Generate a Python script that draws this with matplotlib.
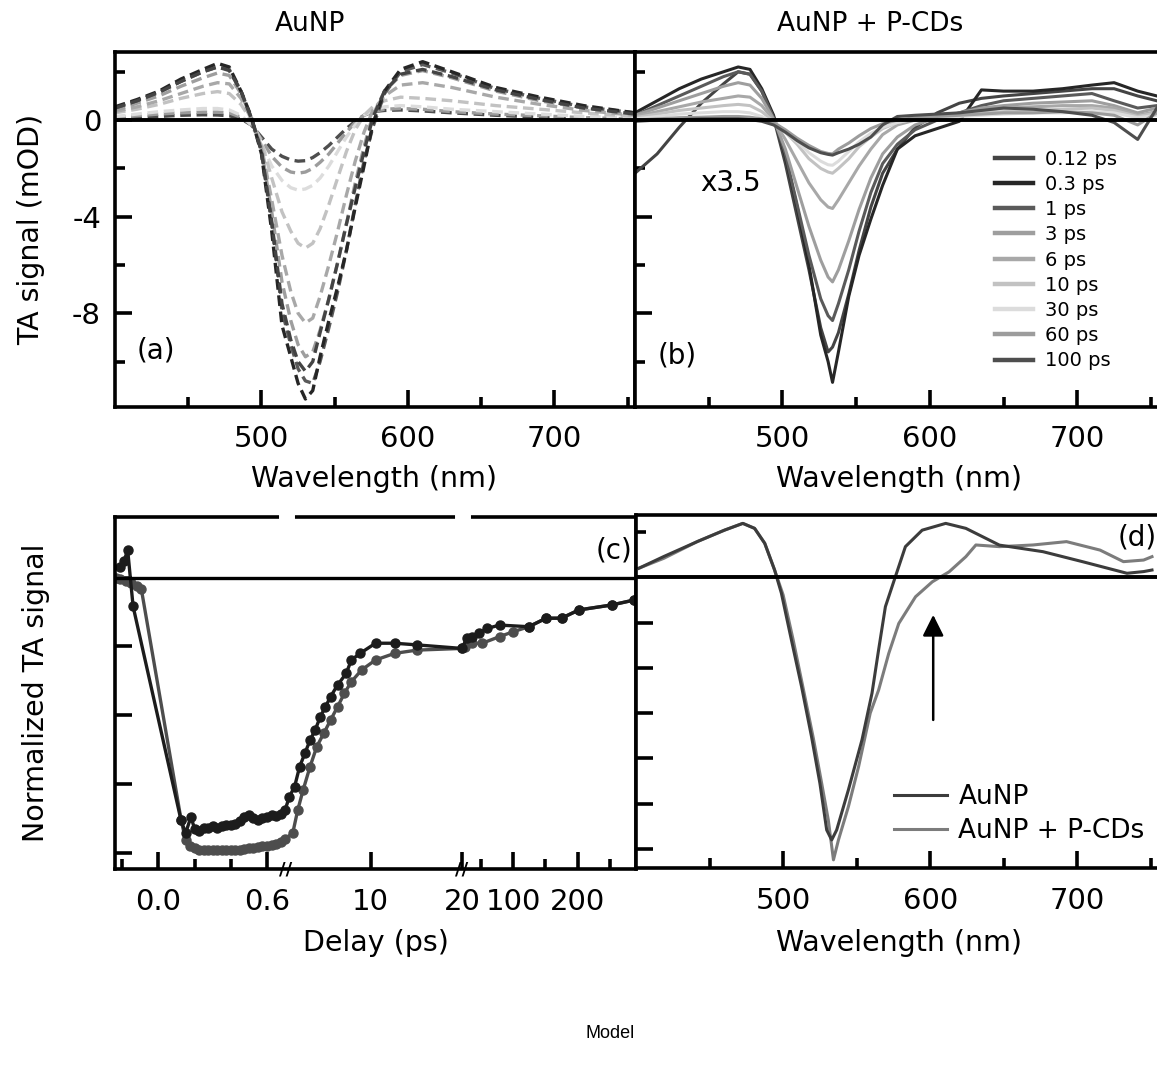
import numpy as np
import matplotlib
matplotlib.use('Agg')
import matplotlib.pyplot as plt
from matplotlib.lines import Line2D

plt.rcParams['font.family'] = 'DejaVu Sans'

# ---------------- panel (a): AuNP (dashed) ----------------
wl_a = [400, 415, 430, 445, 460, 470, 478, 486, 493, 500, 507, 514, 520, 525, 530,
        535, 540, 546, 552, 558, 564, 570, 576, 584, 595, 610, 630, 660, 690, 720, 755]
a_012 = [0.5, 0.8, 1.15, 1.6, 2.0, 2.2, 2.05, 1.2, 0.1, -1.3, -4.2, -7.6, -9.1, -10.0, -10.4,
         -10.0, -8.8, -7.4, -5.9, -4.3, -2.8, -1.3, 0.1, 1.2, 1.9, 2.1, 1.8, 1.25, 0.85, 0.5, 0.25]
a_03 = [0.55, 0.85, 1.2, 1.7, 2.1, 2.35, 2.2, 1.2, 0.15, -1.4, -4.6, -8.5, -9.8, -10.9, -11.55,
        -11.2, -9.8, -8.3, -6.9, -5.4, -3.6, -1.9, -0.15, 1.2, 2.1, 2.42, 2.0, 1.35, 0.95, 0.6, 0.3]
a_1 = [0.5, 0.8, 1.15, 1.6, 2.0, 2.2, 2.1, 1.2, 0.1, -1.3, -4.3, -7.9, -9.3, -10.3, -10.8,
       -10.9, -10.0, -8.6, -7.1, -5.4, -3.5, -1.7, -0.3, 1.1, 2.0, 2.3, 1.95, 1.3, 0.9, 0.55, 0.3]
a_3 = [0.4, 0.7, 1.0, 1.4, 1.75, 1.95, 1.85, 1.1, 0.1, -1.2, -3.8, -6.7, -8.3, -9.3, -9.8,
       -9.6, -8.7, -7.4, -5.9, -4.3, -2.6, -1.1, 0.2, 1.2, 1.85, 2.05, 1.75, 1.2, 0.8, 0.5, 0.25]
a_6 = [0.35, 0.55, 0.8, 1.1, 1.4, 1.55, 1.5, 0.9, 0.05, -1.1, -3.3, -5.6, -7.1, -8.0, -8.4,
       -8.2, -7.3, -6.0, -4.6, -3.1, -1.7, -0.5, 0.4, 1.0, 1.45, 1.55, 1.35, 0.95, 0.65, 0.4, 0.2]
a_10 = [0.3, 0.45, 0.65, 0.9, 1.1, 1.18, 1.1, 0.65, 0.0, -0.9, -2.4, -3.8, -4.6, -5.1, -5.3,
        -5.1, -4.5, -3.5, -2.4, -1.3, -0.4, 0.2, 0.55, 0.8, 0.95, 0.9, 0.8, 0.6, 0.45, 0.3, 0.15]
a_30 = [0.15, 0.25, 0.35, 0.42, 0.48, 0.48, 0.42, 0.2, -0.2, -1.0, -1.9, -2.5, -2.8, -2.9, -2.85,
        -2.7, -2.4, -1.9, -1.3, -0.7, -0.2, 0.2, 0.4, 0.55, 0.6, 0.55, 0.45, 0.35, 0.25, 0.15, 0.1]
a_60 = [0.1, 0.18, 0.25, 0.3, 0.33, 0.33, 0.3, 0.12, -0.2, -0.8, -1.5, -1.95, -2.15, -2.2, -2.15,
        -2.0, -1.75, -1.4, -0.95, -0.5, -0.1, 0.2, 0.35, 0.45, 0.48, 0.45, 0.35, 0.25, 0.18, 0.1, 0.05]
a_100 = [0.05, 0.1, 0.15, 0.2, 0.22, 0.21, 0.18, 0.05, -0.2, -0.7, -1.2, -1.5, -1.65, -1.7, -1.68,
         -1.55, -1.35, -1.05, -0.7, -0.35, -0.05, 0.2, 0.35, 0.4, 0.42, 0.38, 0.3, 0.2, 0.12, 0.08, 0.05]

# ---------------- panel (b): AuNP + P-CDs ----------------
wl_b = [400, 415, 430, 445, 460, 470, 478, 486, 494, 502, 510, 518, 526, 531, 534, 538,
        545, 552, 560, 568, 578, 590, 605, 620, 635, 650, 670, 690, 710, 725, 741, 754]
b_012 = [-2.2, -1.4, -0.3, 0.7, 1.5, 2.0, 1.9, 1.2, 0.1, -1.8, -4.0, -6.2, -8.6, -9.6, -9.4, -8.8,
         -7.2, -5.4, -3.6, -2.2, -1.2, -0.3, 0.3, 0.7, 0.9, 1.0, 1.1, 1.2, 1.3, 1.3, 1.0, 0.8]
b_03 = [0.3, 0.8, 1.3, 1.7, 2.0, 2.2, 2.1, 1.3, 0.2, -1.5, -3.6, -6.0, -8.9, -10.0, -10.86, -9.6,
        -7.3, -5.6, -4.1, -2.7, -1.2, -0.65, -0.35, -0.05, 1.25, 1.2, 1.2, 1.3, 1.45, 1.55, 1.2, 1.0]
b_1 = [0.2, 0.6, 1.0, 1.4, 1.8, 2.0, 1.9, 1.2, 0.1, -1.4, -3.5, -5.6, -7.4, -8.1, -8.3, -7.6,
       -6.2, -4.6, -3.0, -1.8, -1.0, -0.4, 0.0, 0.3, 0.6, 0.8, 0.9, 1.0, 1.1, 0.8, 0.5, 0.6]
b_3 = [0.2, 0.5, 0.8, 1.1, 1.4, 1.55, 1.45, 0.9, 0.05, -1.2, -2.8, -4.4, -5.8, -6.5, -6.7, -6.2,
       -5.0, -3.7, -2.4, -1.4, -0.7, -0.2, 0.1, 0.3, 0.5, 0.6, 0.7, 0.75, 0.8, 0.6, 0.3, 0.5]
b_6 = [0.15, 0.35, 0.55, 0.75, 0.9, 1.0, 0.95, 0.6, 0.0, -0.8, -1.7, -2.6, -3.3, -3.6, -3.66, -3.3,
       -2.6, -1.9, -1.2, -0.6, -0.2, 0.0, 0.15, 0.25, 0.4, 0.5, 0.55, 0.6, 0.6, 0.5, 0.2, 0.35]
b_10 = [0.1, 0.25, 0.4, 0.5, 0.6, 0.65, 0.6, 0.35, -0.05, -0.5, -1.0, -1.6, -2.0, -2.15, -2.2, -2.0,
        -1.6, -1.1, -0.7, -0.35, -0.1, 0.05, 0.15, 0.2, 0.3, 0.35, 0.4, 0.45, 0.5, 0.4, 0.15, 0.3]
b_30 = [0.05, 0.15, 0.25, 0.3, 0.35, 0.35, 0.3, 0.15, -0.1, -0.5, -0.9, -1.35, -1.7, -1.85, -1.87, -1.7,
        -1.3, -0.9, -0.55, -0.3, -0.1, 0.05, 0.1, 0.15, 0.2, 0.25, 0.3, 0.3, 0.35, 0.3, 0.1, 0.2]
b_60 = [0.0, 0.05, 0.1, 0.12, 0.15, 0.15, 0.12, 0.05, -0.1, -0.4, -0.75, -1.05, -1.3, -1.38, -1.4, -1.2,
        -0.95, -0.65, -0.35, -0.15, 0.0, 0.1, 0.15, 0.2, 0.25, 0.3, 0.3, 0.35, 0.3, 0.2, -0.2, 0.3]
b_100 = [-0.05, 0.0, 0.02, 0.05, 0.05, 0.05, 0.02, -0.05, -0.2, -0.5, -0.85, -1.15, -1.35, -1.42, -1.45, -1.35,
         -1.2, -1.0, -0.7, -0.2, 0.15, 0.2, 0.25, 0.3, 0.4, 0.5, 0.45, 0.35, 0.2, -0.1, -0.8, 0.5]

delay_labels = ['0.12 ps', '0.3 ps', '1 ps', '3 ps', '6 ps', '10 ps', '30 ps', '60 ps', '100 ps']
grays = ['#444444', '#262626', '#5a5a5a', '#9e9e9e', '#a8a8a8', '#c2c2c2', '#dcdcdc', '#9c9c9c', '#4e4e4e']

# ---------------- panel (c): kinetics ----------------
c_dark_t = [-0.21, -0.19, -0.17, -0.14, 0.124, 0.15, 0.18,
            0.2, 0.225, 0.25, 0.275, 0.3, 0.325, 0.35, 0.375, 0.4, 0.425, 0.45, 0.475, 0.5,
            0.525, 0.55, 0.575, 0.6, 0.625, 0.65, 0.675, 0.7,
            1.08, 1.65, 2.2, 2.78, 3.35, 3.9, 4.47, 5.03, 5.6, 6.36, 7.3, 7.87, 8.82, 10.52, 12.6, 15.05, 20.1,
            27.3, 35.4, 46, 59.6, 78.5, 124, 151, 175, 202, 253, 288]
c_dark = [0.04, 0.06, 0.10, -0.105, -0.88, -0.93, -0.87,
          -0.915, -0.92, -0.912, -0.91, -0.905, -0.91, -0.905, -0.90, -0.90, -0.895, -0.885, -0.87, -0.865,
          -0.875, -0.88, -0.875, -0.87, -0.865, -0.868, -0.86, -0.845,
          -0.797, -0.76, -0.688, -0.639, -0.591, -0.555, -0.506, -0.47, -0.433, -0.391, -0.349, -0.30, -0.276,
          -0.239, -0.239, -0.245, -0.258,
          -0.221, -0.215, -0.203, -0.185, -0.173, -0.179, -0.148, -0.148, -0.118, -0.1, -0.082]
c_gray_t = [-0.235, -0.21, -0.18, -0.15, -0.12, -0.095, 0.125, 0.15, 0.175,
            0.2, 0.225, 0.25, 0.275, 0.3, 0.325, 0.35, 0.375, 0.4, 0.425, 0.45, 0.475, 0.5,
            0.525, 0.55, 0.575, 0.6, 0.625, 0.65, 0.675, 0.7,
            1.44, 1.99, 2.58, 3.34, 4.08, 4.84, 5.6, 6.36, 7.11, 7.87, 9.0, 10.52, 12.6, 15.05, 19.95,
            24.7, 35.4, 51.5, 78.5, 100, 124, 151, 175, 202, 253, 288]
c_gray = [0.0, -0.005, -0.012, -0.02, -0.03, -0.04, -0.88, -0.955, -0.975,
          -0.985, -0.99, -0.99, -0.992, -0.99, -0.99, -0.99, -0.992, -0.99, -0.992, -0.99, -0.988, -0.985,
          -0.985, -0.98, -0.978, -0.975, -0.972, -0.97, -0.962, -0.95,
          -0.93, -0.846, -0.773, -0.688, -0.615, -0.567, -0.518, -0.47, -0.421, -0.379, -0.336, -0.3,
          -0.276, -0.264, -0.258,
          -0.252, -0.239, -0.239, -0.215, -0.197, -0.179, -0.148, -0.148, -0.118, -0.1, -0.082]

# ---------------- panel (d): normalized spectra ----------------
d_au_wl = [402, 419, 441.8, 460.1, 472.6, 480.6, 487.5, 494.2, 498.8, 505.6, 512.5, 519.3, 525, 529.6,
           533, 536.4, 544.4, 553.6, 560.4, 564.9, 569.5, 576.3, 583.1, 594.5, 610.5, 624.2, 647,
           676.6, 704, 733.7, 745.1, 750.7]
d_au = [0.2, 0.46, 0.79, 1.04, 1.19, 1.08, 0.75, 0.16, -0.35, -1.38, -2.41, -3.52, -4.55, -5.58,
        -5.8, -5.58, -4.69, -3.59, -2.56, -1.6, -0.65, 0.014, 0.676, 1.04, 1.19, 1.08, 0.71,
        0.565, 0.34, 0.088, 0.126, 0.16]
d_cd_wl = [402, 419, 441.8, 460.1, 472.6, 480.6, 487.5, 494.2, 500, 506.8, 513.6, 520.5, 526.2, 530.7,
           534.2, 537.6, 544.4, 551.3, 559.2, 564.9, 571.8, 578.6, 590, 601.4, 612.8, 624.2, 631,
           647, 669.8, 692.6, 715.4, 731.3, 745, 750.7]
d_cd = [0.2, 0.42, 0.79, 1.04, 1.19, 1.08, 0.75, 0.16, -0.39, -1.38, -2.45, -3.55, -4.55, -5.36,
        -6.24, -5.8, -5.06, -4.18, -3.0, -2.49, -1.68, -1.02, -0.43, -0.1, 0.12, 0.455, 0.713,
        0.676, 0.713, 0.787, 0.6, 0.345, 0.38, 0.455]

W, H = 1157, 1070
fig = plt.figure(figsize=(W / 100, H / 100), dpi=100)


def box(l, t, r, b):
    return [l / W, 1 - b / H, (r - l) / W, (b - t) / H]


ax_a = fig.add_axes(box(115, 52, 635, 407))
ax_b = fig.add_axes(box(635, 52, 1162, 407))
ax_c = fig.add_axes(box(115, 517, 636, 869))
ax_d = fig.add_axes(box(636, 515, 1162, 868))


def style(ax):
    for s in ax.spines.values():
        s.set_linewidth(2.6)
    ax.tick_params(which='both', direction='in', width=2.6, top=False, right=False,
                   labelsize=21)
    ax.tick_params(which='major', length=12)
    ax.tick_params(which='minor', length=7)
    ax.tick_params(axis='x', pad=13)
    ax.tick_params(axis='y', pad=10)


for ax in (ax_a, ax_b, ax_c, ax_d):
    style(ax)

# (a)
a_series = [a_012, a_03, a_1, a_3, a_6, a_10, a_30, a_60, a_100]
for vals, col in zip(a_series[::-1], grays[::-1]):
    ax_a.plot(wl_a, vals, color=col, lw=2.4, ls=(0, (3.2, 1.7)))
ax_a.axhline(0, color='black', lw=2.8, zorder=5)
ax_a.set_xlim(400, 755)
ax_a.set_ylim(-11.88, 2.82)
ax_a.set_xticks([500, 600, 700])
ax_a.set_xticks([450, 550, 650, 750], minor=True)
ax_a.set_yticks([0, -4, -8])
ax_a.set_yticklabels(['0', '-4', '-8'])
ax_a.set_yticks([2, -2, -6, -10], minor=True)
ax_a.set_xlabel('Wavelength (nm)', fontsize=20.5)
ax_a.xaxis.set_label_coords(0.499, -0.163)
ax_a.xaxis.label.set_va('top')
ax_a.set_ylabel('TA signal (mOD)', fontsize=20.5)
ax_a.yaxis.set_label_coords(-0.135, 0.5)
ax_a.text(0.079, 0.158, '(a)', transform=ax_a.transAxes, fontsize=20, ha='center', va='center')

# (b)
b_series = [b_012, b_03, b_1, b_3, b_6, b_10, b_30, b_60, b_100]
handles = []
for vals, col, lab in zip(b_series, grays, delay_labels):
    ax_b.plot(wl_b, vals, color=col, lw=2.2)
    handles.append(Line2D([], [], color=col, lw=3.2, label=lab))
ax_b.axhline(0, color='black', lw=2.8, zorder=5)
ax_b.set_xlim(400, 757.5)
ax_b.set_ylim(-11.88, 2.82)
ax_b.set_xticks([500, 600, 700])
ax_b.set_xticks([450, 550, 650, 750], minor=True)
ax_b.set_yticks([0, -4, -8])
ax_b.set_yticks([2, -2, -6, -10], minor=True)
ax_b.set_yticklabels([])
ax_b.set_xlabel('Wavelength (nm)', fontsize=20.5)
ax_b.xaxis.set_label_coords(0.5, -0.163)
ax_b.xaxis.label.set_va('top')
ax_b.text(0.08, 0.146, '(b)', transform=ax_b.transAxes, fontsize=20, ha='center', va='center')
ax_b.text(0.182, 0.631, 'x3.5', transform=ax_b.transAxes, fontsize=20, ha='center', va='center')
ax_b.legend(handles=handles, loc='upper left', bbox_to_anchor=(0.683, 0.725), frameon=False,
            fontsize=14, handlelength=1.95, handletextpad=0.6, labelspacing=0.32,
            borderpad=0, borderaxespad=0)

# (c) broken delay axis: piecewise linear scale
brk_t = [-0.24, 0.705, 20.0, 291.0]
brk_u = [0.0, 171.0, 347.0, 521.0]


def fwd(x):
    return np.interp(x, brk_t, brk_u)


def inv(u):
    return np.interp(u, brk_u, brk_t)


ax_c.set_xscale('function', functions=(fwd, inv))
ax_c.plot(c_gray_t, c_gray, color='#4d4d4d', lw=2.4, marker='o', ms=6.5)
ax_c.plot(c_dark_t, c_dark, color='#1c1c1c', lw=2.4, marker='o', ms=6.5)
ax_c.axhline(0, color='black', lw=2.4, zorder=5)
ax_c.set_xlim(-0.24, 291)
ax_c.set_ylim(-1.06, 0.22)
ax_c.set_xticks([0.0, 0.6, 10, 20, 100, 200])
ax_c.set_xticklabels(['0.0', '0.6', '10', '20', '100', '200'])
ax_c.set_xticks([-0.2, 0.2, 0.4, 50, 150, 250], minor=True)
ax_c.set_yticks([0, -0.25, -0.5, -0.75, -1.0])
ax_c.set_yticklabels([])
ax_c.tick_params(axis='x', pad=14)
ax_c.set_xlabel('Delay (ps)', fontsize=20.5)
ax_c.xaxis.set_label_coords(0.5, -0.170)
ax_c.xaxis.label.set_va('top')
ax_c.set_ylabel('Normalized TA signal', fontsize=20.5)
ax_c.yaxis.set_label_coords(-0.125, 0.5)
ax_c.text(0.958, 0.906, '(c)', transform=ax_c.transAxes, fontsize=20, ha='center', va='center')
xt = ax_c.get_xaxis_transform()
for b in brk_t[1:3]:
    u = fwd(b)
    ax_c.plot(inv([u - 4.5, u + 4.5]), [1, 1], color='white', lw=5, transform=xt,
              clip_on=False, zorder=6)
    ax_c.text(b, 0, '//', transform=xt, ha='center', va='center', fontsize=13,
              fontweight='bold', zorder=7)

# (d)
ax_d.plot(d_cd_wl, d_cd, color='#7c7c7c', lw=2.2, label='AuNP + P-CDs')
ax_d.plot(d_au_wl, d_au, color='#3c3c3c', lw=2.2, label='AuNP')
ax_d.axhline(0, color='black', lw=2.8, zorder=5)
ax_d.set_xlim(400, 757.5)
ax_d.set_ylim(-6.42, 1.375)
ax_d.set_xticks([500, 600, 700])
ax_d.set_xticks([450, 550, 650, 750], minor=True)
ax_d.set_yticks([-1, -2, -3, -4, -5, -6])
ax_d.set_yticks([1], minor=True)
ax_d.set_yticklabels([])
ax_d.tick_params(axis='x', pad=14)
ax_d.set_xlabel('Wavelength (nm)', fontsize=20.5)
ax_d.xaxis.set_label_coords(0.5, -0.173)
ax_d.xaxis.label.set_va('top')
ax_d.annotate('', xy=(602, -0.83), xytext=(602, -3.15),
              arrowprops=dict(arrowstyle='-|>', color='black', lw=1.8, mutation_scale=32,
                              shrinkA=0, shrinkB=0))
h_d, l_d = ax_d.get_legend_handles_labels()
ax_d.legend(h_d[::-1], l_d[::-1], loc='upper left', bbox_to_anchor=(0.49, 0.2375), frameon=False,
            fontsize=19, handlelength=2.0, handletextpad=0.45, labelspacing=0.3,
            borderpad=0, borderaxespad=0)
ax_d.text(0.952, 0.935, '(d)', transform=ax_d.transAxes, fontsize=20, ha='center', va='center')

fig.text(310 / W, 1 - 24 / H, 'AuNP', fontsize=19, ha='center', va='center')
fig.text(870 / W, 1 - 24 / H, 'AuNP + P-CDs', fontsize=19, ha='center', va='center')
fig.text(610 / W, 1 - 1033 / H, 'Model', fontsize=13, family='Liberation Sans',
         ha='center', va='center')

fig.savefig('out.png', dpi=100)
